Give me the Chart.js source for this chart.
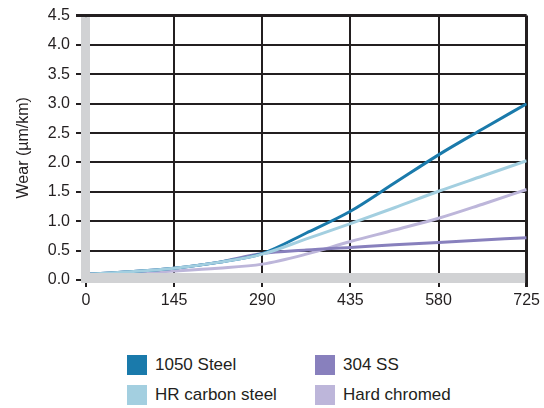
<!DOCTYPE html>
<html>
<head>
<meta charset="utf-8">
<script src="https://cdn.jsdelivr.net/npm/chart.js@4"></script>
<style>
body{margin:0;background:#fff;font-family:"Liberation Sans",Arial,Helvetica,sans-serif;color:#231f20;}
.wrap{position:absolute;left:0;top:0;width:544px;height:330px;}
.legend{position:absolute;left:127px;top:355px;width:400px;height:52px;}
.legend .item{position:absolute;font-size:17px;line-height:20px;white-space:nowrap;}
.legend .sw{display:inline-block;width:20px;height:20px;vertical-align:top;margin-right:8px;}
</style>
</head>
<body>
<div class="wrap"><canvas id="wearChart" width="544" height="330"></canvas></div>
<div class="legend" id="legend"></div>
<script>
// sliding distance (x) and wear values per coating
const distance = [0, 72.5, 145, 217.5, 290, 362.5, 435, 507.5, 580, 652.5, 725];
const steel1050 = [0.10, 0.14, 0.20, 0.30, 0.45, 0.80, 1.17, 1.65, 2.13, 2.57, 3.00];
const hrCarbon  = [0.10, 0.14, 0.20, 0.30, 0.44, 0.70, 0.96, 1.23, 1.51, 1.77, 2.03];
const ss304     = [0.10, 0.14, 0.20, 0.30, 0.45, 0.51, 0.555, 0.60, 0.64, 0.68, 0.72];
const hardChrome= [0.10, 0.12, 0.155, 0.20, 0.27, 0.44, 0.655, 0.85, 1.05, 1.29, 1.54];

const seriesNames = ["1050 Steel", "HR carbon steel", "304 SS", "Hard chromed"];
const seriesColors = ["#1a7aab", "#a3cfe0", "#8880bd", "#bdb6da"];
const seriesData = [steel1050, hrCarbon, ss304, hardChrome];
const drawOrder = [2, 1, 3, 4];

const xTicks = [0, 145, 290, 435, 580, 725];
const yTicks = [0, 0.5, 1, 1.5, 2, 2.5, 3, 3.5, 4, 4.5];

const ink = "#231f20";
const gray = "#d1d2d4";

const datasets = seriesData.map((vals, i) => ({
    label: seriesNames[i],
    data: vals.map((v, j) => ({x: distance[j], y: v})),
    borderColor: seriesColors[i],
    backgroundColor: seriesColors[i],
    borderWidth: 3,
    pointRadius: 0,
    cubicInterpolationMode: 'monotone',
    order: drawOrder[i]
}));

// thick gray axis bars on the left and bottom
const grayBars = {
    id: 'grayBars',
    afterDatasetsDraw(chart){
        const a = chart.chartArea, c = chart.ctx;
        c.save();
        c.fillStyle = gray;
        c.fillRect(a.left - 5, a.top + 1.5, 9, a.bottom - a.top + 1.5);
        c.fillRect(a.left - 5, a.bottom - 7, a.right - a.left + 3.5, 10);
        c.restore();
    }
};

new Chart(document.getElementById('wearChart'), {
    type: 'line',
    data: {datasets},
    plugins: [grayBars],
    options: {
        responsive: false,
        animation: false,
        layout: {padding: {top: 12, right: 15, left: 0, bottom: 0}},
        plugins: {legend: {display: false}, tooltip: {enabled: false}},
        scales: {
            x: {
                type: 'linear', min: 0, max: 725,
                afterBuildTicks: s => { s.ticks = xTicks.map(v => ({value: v})); },
                afterFit: s => { s.height = 50; },
                border: {display: false},
                grid: {
                    color: ink,
                    lineWidth: ctx => ctx.tick && ctx.tick.value === 725 ? 3 : 2,
                    tickLength: 7
                },
                ticks: {color: ink, padding: 4, font: {size: 16, family: '"Liberation Sans", Arial, sans-serif'}, maxRotation: 0}
            },
            y: {
                min: 0, max: 4.5,
                afterBuildTicks: s => { s.ticks = yTicks.map(v => ({value: v})); },
                afterFit: s => { s.width = 86; },
                border: {display: false},
                grid: {
                    color: ink,
                    lineWidth: ctx => ctx.tick && ctx.tick.value === 4.5 ? 3 : 2,
                    tickLength: 10
                },
                ticks: {color: ink, padding: 6, callback: v => v.toFixed(1), font: {size: 16, family: '"Liberation Sans", Arial, sans-serif'}},
                title: {display: true, text: 'Wear (µm/km)', color: ink, padding: {top: 14, bottom: 0}, font: {size: 16, family: '"Liberation Sans", Arial, sans-serif'}}
            }
        }
    }
});

// legend: two columns
const legend = document.getElementById('legend');
const legendPos = [[0, 0], [0, 30], [188, 0], [188, 30]];
const legendOrder = [0, 1, 2, 3];
legendOrder.forEach((idx, k) => {
    const d = document.createElement('div');
    d.className = 'item';
    d.style.left = legendPos[k][0] + 'px';
    d.style.top = legendPos[k][1] + 'px';
    d.innerHTML = `<span class="sw" style="background:${seriesColors[idx]}"></span>${seriesNames[idx]}`;
    legend.appendChild(d);
});
</script>
</body>
</html>
